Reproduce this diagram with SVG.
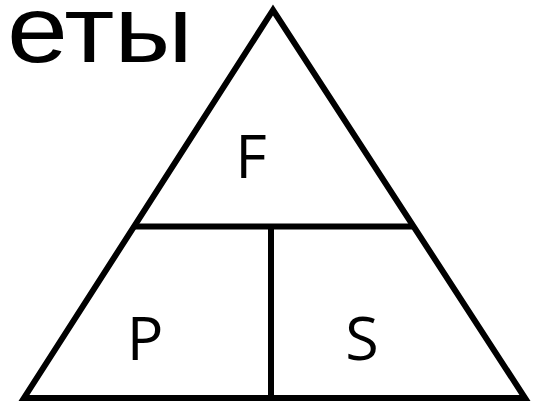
<svg xmlns="http://www.w3.org/2000/svg" width="541" height="404" viewBox="0 0 541 404">
<style>
.ln{stroke:#000;stroke-width:6;fill:none;stroke-linejoin:miter}
.lbl{font-family:"Open Sans","Liberation Sans",sans-serif;font-size:61px;fill:#000;text-anchor:middle}
.ttl{font-family:"Liberation Sans",Arial,sans-serif;font-size:94px;fill:#000}
</style>
<rect width="541" height="404" fill="#fff"/>
<text class="ttl" x="7" y="62" textLength="186" lengthAdjust="spacingAndGlyphs">еты</text>
<g id="connectors">
<path id="triangle" class="ln" d="M273,10 L24,398 L525,398 Z"/>
<line class="ln" x1="135" y1="226.5" x2="413" y2="226.5"/>
<line class="ln" x1="271" y1="226.5" x2="271" y2="398"/>
</g>
<g id="node-F"><text class="lbl" x="251" y="178">F</text></g>
<g id="node-P"><text class="lbl" x="145" y="360">P</text></g>
<g id="node-S"><text class="lbl" x="362" y="360">S</text></g>
</svg>
